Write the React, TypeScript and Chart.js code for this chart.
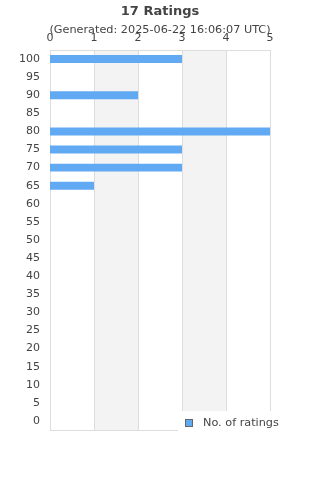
import React, { useEffect, useRef } from "react";
import { Chart, registerables } from "chart.js";

Chart.register(...registerables);

const titleText = "17 Ratings";
const subtitleText = "(Generated: 2025-06-22 16:06:07 UTC)";
const categories = ["100", "95", "90", "85", "80", "75", "70", "65", "60", "55", "50", "45", "40", "35", "30", "25", "20", "15", "10", "5", "0"];
const ratingCounts = [3, 0, 2, 0, 5, 3, 3, 1, 0, 0, 0, 0, 0, 0, 0, 0, 0, 0, 0, 0, 0];
const seriesLabel = "No. of ratings";
const xMin = 0;
const xMax = 5;

const FONT = "'DejaVu Sans', sans-serif";
const TEXT = "#444444";
const BAR = "#61a9f2";

const decorPlugin = {
  id: "decor",
  beforeDatasetsDraw(chart: any) {
    const { ctx, chartArea, scales } = chart;
    const x = scales.x;
    ctx.save();
    for (let v = xMin; v < xMax; v++) {
      if (v % 2 === 1) {
        const a = x.getPixelForValue(v);
        const b = x.getPixelForValue(v + 1);
        ctx.fillStyle = "#f3f3f3";
        ctx.fillRect(a, chartArea.top, b - a, chartArea.bottom - chartArea.top);
      }
    }
    ctx.strokeStyle = "#dddddd";
    ctx.lineWidth = 1;
    for (let v = xMin; v <= xMax; v++) {
      const px = Math.round(x.getPixelForValue(v)) + 0.5;
      ctx.beginPath();
      ctx.moveTo(px, chartArea.top);
      ctx.lineTo(px, chartArea.bottom);
      ctx.stroke();
    }
    const t = Math.round(chartArea.top) + 0.5;
    const bt = Math.round(chartArea.bottom) + 0.5;
    ctx.beginPath();
    ctx.moveTo(chartArea.left, t);
    ctx.lineTo(chartArea.right + 1, t);
    ctx.moveTo(chartArea.left, bt);
    ctx.lineTo(chartArea.right + 1, bt);
    ctx.stroke();
    ctx.restore();
  },
  afterDraw(chart: any) {
    const { ctx, chartArea, width } = chart;
    ctx.save();
    ctx.fillStyle = TEXT;
    ctx.textAlign = "center";
    ctx.textBaseline = "middle";
    ctx.font = "bold 13px " + FONT;
    ctx.fillText(titleText, (chartArea.left + chartArea.right) / 2, 11.5);
    ctx.font = "11.25px " + FONT;
    ctx.fillText(subtitleText, (chartArea.left + chartArea.right) / 2, 30);
    const lx = 178;
    const ly = 411;
    ctx.fillStyle = "#ffffff";
    ctx.fillRect(lx, ly, width - lx, 22);
    ctx.fillStyle = BAR;
    ctx.fillRect(185.5, 419.5, 7, 7);
    ctx.strokeStyle = "#666666";
    ctx.lineWidth = 1;
    ctx.strokeRect(185.5, 419.5, 7, 7);
    ctx.fillStyle = TEXT;
    ctx.textAlign = "left";
    ctx.font = "11.25px " + FONT;
    ctx.fillText(seriesLabel, 203, 423);
    ctx.restore();
  },
};

export default function App() {
  const ref = useRef<HTMLCanvasElement>(null);
  useEffect(() => {
    document.body.style.margin = "0";
    const chart = new Chart(ref.current as HTMLCanvasElement, {
      type: "bar",
      data: {
        labels: categories,
        datasets: [
          {
            label: seriesLabel,
            data: ratingCounts,
            backgroundColor: BAR,
            borderWidth: 0,
            barPercentage: 0.88,
            categoryPercentage: 0.5,
          },
        ],
      },
      plugins: [decorPlugin],
      options: {
        indexAxis: "y",
        animation: false,
        responsive: false,
        layout: { padding: { top: 0, left: 0, right: 50, bottom: 50 } },
        plugins: { legend: { display: false }, title: { display: false }, tooltip: { enabled: false } },
        scales: {
          x: {
            position: "top",
            min: xMin,
            max: xMax,
            grid: { display: false, drawTicks: false },
            border: { display: false },
            ticks: { stepSize: 1, color: TEXT, font: { family: FONT, size: 11 }, padding: 5 },
            afterFit(s: any) {
              s.height = 50;
            },
          },
          y: {
            grid: { display: false, drawTicks: false },
            border: { display: false },
            ticks: { color: TEXT, font: { family: FONT, size: 11 }, padding: 10, autoSkip: false },
            afterFit(s: any) {
              s.width = 50;
            },
          },
        },
      } as any,
    });
    return () => chart.destroy();
  }, []);
  return <canvas ref={ref} width={320} height={480} style={{ display: "block" }} />;
}
